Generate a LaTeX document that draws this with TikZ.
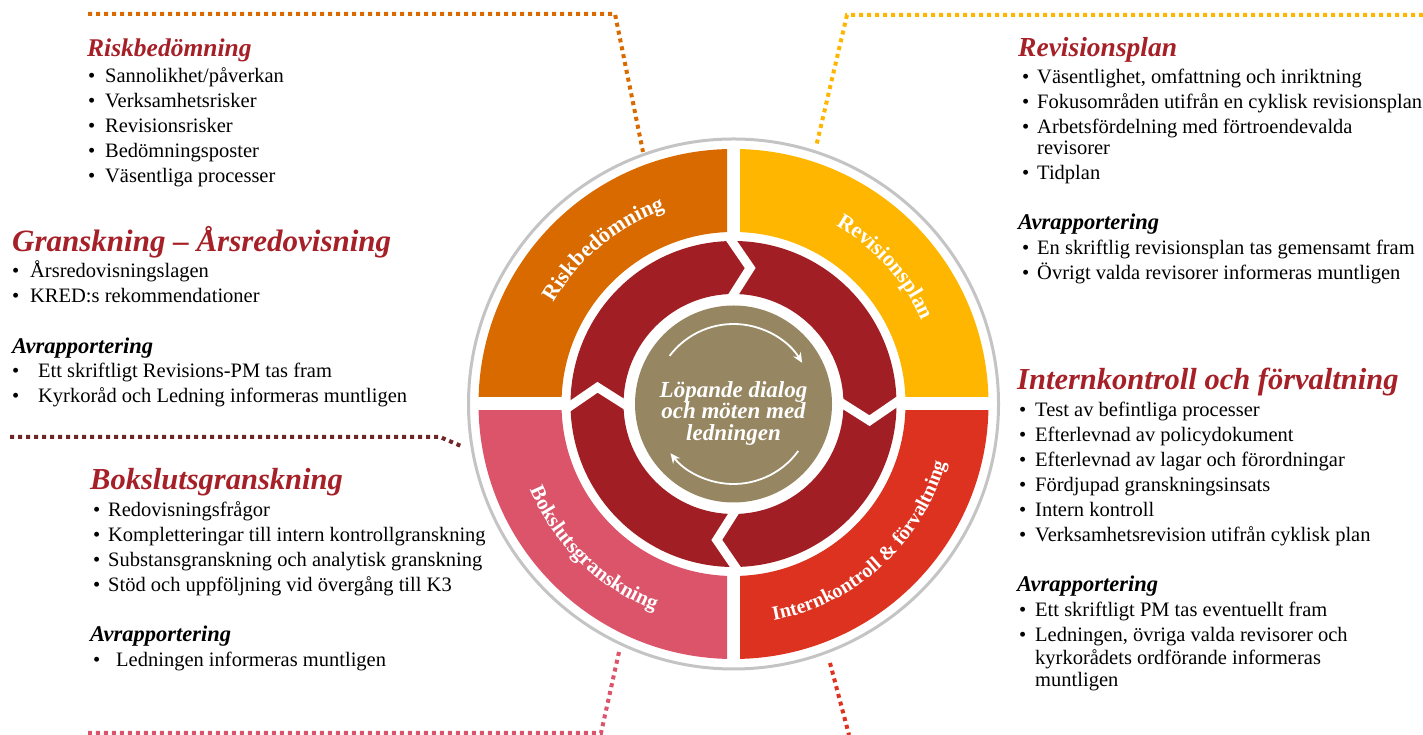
\documentclass[tikz,border=0pt]{standalone}
\usepackage{fontspec}
\setmainfont{Liberation Serif}
\usetikzlibrary{arrows.meta,decorations.text,calc}

\definecolor{riskor}{RGB}{217,106,0}
\definecolor{revyel}{RGB}{255,182,0}
\definecolor{intred}{RGB}{222,50,32}
\definecolor{bokpink}{RGB}{219,84,106}
\definecolor{ringred}{RGB}{161,31,36}
\definecolor{dlgolive}{RGB}{150,135,98}
\definecolor{headred}{RGB}{166,32,40}
\definecolor{granbrown}{RGB}{110,38,38}
\definecolor{circgray}{RGB}{196,196,196}

\newcommand\itm[1][17pt]{\makebox[#1][l]{\textbullet}}
\newcommand\qfont{\bfseries\fontsize{22}{22}\selectfont}

\begin{document}
\begin{tikzpicture}[x=1pt,y=1pt,
        body/.style={anchor=base west,inner sep=0,align=left,font=\fontsize{20.5}{25}\selectfont},
        head/.style={anchor=base west,inner sep=0,text=headred,font=\fontsize{#1}{#1}\selectfont\bfseries\itshape},
        avr/.style={anchor=base west,inner sep=0,font=\fontsize{22.5}{25}\selectfont\bfseries\itshape},
        dots/.style={draw=#1,line width=4pt,dash pattern=on 4pt off 4pt},
        curved/.style={decorate,decoration={text along path,text color=white,text align=center}},
        ]
        \useasboundingbox (0,0) rectangle (1423,735);
        \coordinate (c) at (733.5,331);

        % dotted frames
        \coordinate (rk1) at (88,721);  \coordinate (rk2) at (615,721); \coordinate (rk3) at (643,583);
        \coordinate (rv1) at (1423,720); \coordinate (rv2) at (847,720); \coordinate (rv3) at (816,588);
        \coordinate (gr1) at (10,298);  \coordinate (gr2) at (440,298); \coordinate (gr3) at (461,289);
        \coordinate (bk1) at (619,83);  \coordinate (bk2) at (601,2);   \coordinate (bk3) at (88,2);
        \coordinate (ik1) at (830,72);  \coordinate (ik2) at (849,0);
        \draw[dots=riskor] (rk1) -- (rk2) -- (rk3);
        \draw[dots=revyel] (rv1) -- (rv2) -- (rv3);
        \draw[dots=granbrown] (gr1) -- (gr2) -- (gr3);
        \draw[dots=bokpink] (bk1) -- (bk2) -- (bk3);
        \draw[dots=intred] (ik1) -- (ik2);

        % wheel
        \draw[circgray,line width=3pt] (c) circle[radius=265];
        \foreach \sx/\sy/\col in {-1/1/riskor,1/1/revyel,1/-1/intred,-1/-1/bokpink}{
            \begin{scope}
                \clip ($(c)+(\sx*6.5,\sy*7)$) rectangle ++(\sx*300,\sy*300);
                \fill[\col,even odd rule] (c) circle[radius=255] (c) circle[radius=172];
            \end{scope}
        }
        \fill[ringred,even odd rule] (c) circle[radius=163] (c) circle[radius=110];
        \foreach \a in {92,2,-88,-178}{
            \draw[white,line width=9pt] ($(c)+(\a:169)$) -- ($(c)+(\a-9:137)$) -- ($(c)+(\a:104)$);
        }
        \node[circle,fill=dlgolive,minimum size=197,inner sep=0] (dlg) at (c) {};
        \node[text=white,align=center,inner sep=0,font=\fontsize{23}{21.5}\selectfont\bfseries\itshape]
            (dlgtxt) at ($(c)+(0,-9)$) {Löpande dialog\\och möten med\\ledningen};
        \draw[white,line width=1.8pt,-{Stealth[length=10pt,width=9pt]}]
            ($(c)+(143:80)$) arc[start angle=143,end angle=31,radius=80];
        \draw[white,line width=1.8pt,-{Stealth[length=10pt,width=9pt]}]
            ($(c)+(-36:80)$) arc[start angle=-36,end angle=-142,radius=80];

        % labels on the wheel
        \path[curved,decoration={text={|\qfont|Riskbedömning}}]
            ($(c)+(160:206)$) arc[start angle=160,end angle=100,radius=206];
        \path[curved,decoration={text={|\qfont|Revisionsplan}}]
            ($(c)+(72:206)$) arc[start angle=72,end angle=12,radius=206];
        \path[curved,decoration={text={|\qfont\fontsize{21}{21}\selectfont|Bokslutsgranskning}}]
            ($(c)+(190:221)$) arc[start angle=190,end angle=262,radius=221];
        \path[curved,decoration={text={|\qfont\fontsize{20}{20}\selectfont|Internkontroll {\&} förvaltning}}]
            ($(c)+(-90:220)$) arc[start angle=-90,end angle=-5,radius=220];

        % Riskbedömning (lists sit on the baseline of their last line)
        \node[head=25.5] (rkh) at (87,678) {Riskbedömning};
        \node[body] (rkl) at (88,552) {\itm Sannolikhet/påverkan\\\itm Verksamhetsrisker\\
            \itm Revisionsrisker\\\itm Bedömningsposter\\\itm Väsentliga processer};

        % Granskning - Årsredovisning
        \node[head=31] (grh) at (12,483) {Granskning – Årsredovisning};
        \node[body] (grl) at (12,432) {\itm[18pt]Årsredovisningslagen\\\itm[18pt]KRED:s rekommendationer};
        \node[avr] (gra) at (12,381) {Avrapportering};
        \node[body] (grr) at (12,332) {\itm[26pt]Ett skriftligt Revisions-PM tas fram\\
            \itm[26pt]Kyrkoråd och Ledning informeras muntligen};

        % Bokslutsgranskning
        \node[head=30.5] (bkh) at (90,245) {Bokslutsgranskning};
        \node[body] (bkl) at (93,143) {\itm[15pt]Redovisningsfrågor\\
            \itm[15pt]Kompletteringar till intern kontrollgranskning\\
            \itm[15pt]Substansgranskning och analytisk granskning\\
            \itm[15pt]Stöd och uppföljning vid övergång till K3};
        \node[avr] (bka) at (90,93) {Avrapportering};
        \node[body] (bkr) at (93,68) {\itm[23pt]Ledningen informeras muntligen};

        % Revisionsplan
        \node[head=27.5] (rvh) at (1018,678) {Revisionsplan};
        \node[body] (rvl) at (1022,555) {\itm[15pt]Väsentlighet, omfattning och inriktning\\
            \itm[15pt]Fokusområden utifrån en cyklisk revisionsplan\\
            \itm[15pt]Arbetsfördelning med förtroendevalda\\[-4pt]
            \hspace*{15pt}revisorer\\
            \itm[15pt]Tidplan};
        \node[avr] (rva) at (1018,505) {Avrapportering};
        \node[body] (rvr) at (1022,455) {\itm[15pt]En skriftlig revisionsplan tas gemensamt fram\\
            \itm[15pt]Övrigt valda revisorer informeras muntligen};

        % Internkontroll och förvaltning
        \node[head=30.5] (ikh) at (1017,345) {Internkontroll och förvaltning};
        \node[body] (ikl) at (1019,193) {\itm[16pt]Test av befintliga processer\\
            \itm[16pt]Efterlevnad av policydokument\\
            \itm[16pt]Efterlevnad av lagar och förordningar\\
            \itm[16pt]Fördjupad granskningsinsats\\
            \itm[16pt]Intern kontroll\\
            \itm[16pt]Verksamhetsrevision utifrån cyklisk plan};
        \node[avr] (ika) at (1017,143) {Avrapportering};
        \node[body] (ikr) at (1019,48) {\itm[16pt]Ett skriftligt PM tas eventuellt fram\\
            \itm[16pt]Ledningen, övriga valda revisorer och\\[-2pt]
            \hspace*{16pt}kyrkorådets ordförande informeras\\[-3pt]
            \hspace*{16pt}muntligen};
\end{tikzpicture}
\end{document}
